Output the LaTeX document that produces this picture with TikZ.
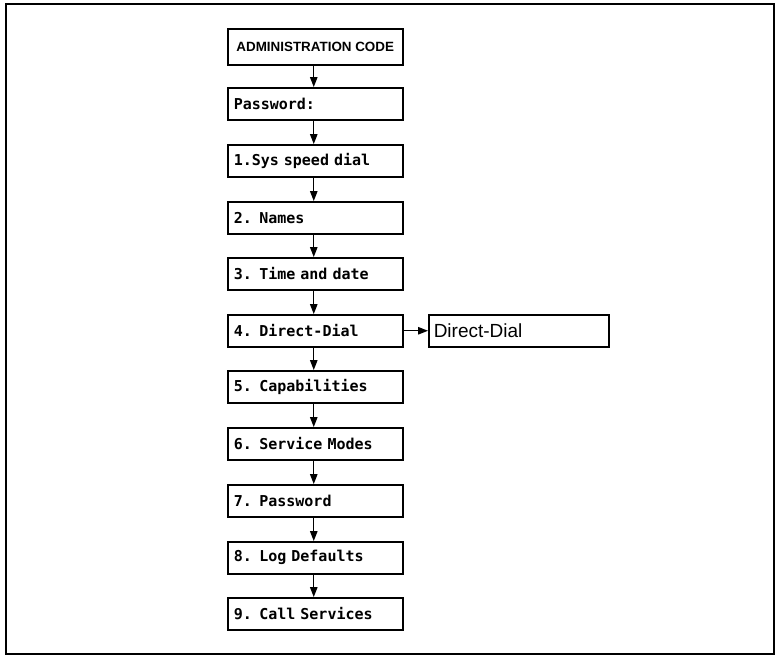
\documentclass[tikz,border=0pt]{standalone}
\usepackage{fontspec}
\setmainfont{Liberation Sans}
\newfontfamily\lcdfont{DejaVu Sans Mono}
\usetikzlibrary{arrows.meta}
\begin{document}
\begin{tikzpicture}[x=1pt,y=-1pt,
  menubox/.style={draw,line width=1.5pt,minimum width=175pt,minimum height=32pt,
    text width=163pt,align=left,inner sep=6pt,anchor=north west,
    font=\lcdfont\bfseries\fontsize{15}{16}\selectfont},
  flow/.style={line width=1.3pt,-{Triangle[length=10pt,width=7.5pt]}}]
\useasboundingbox (0,0) rectangle (776,662);
\draw[line width=1.5pt] (6,4) rectangle (774,654);
\node[draw,line width=1.5pt,minimum width=175pt,minimum height=36pt,anchor=north west,
  inner sep=2pt,font=\bfseries\fontsize{13.4}{15}\selectfont] (admin) at (227,28) {ADMINISTRATION CODE};
\node[menubox] (pw) at (227,87) {Password:};
\node[menubox] (m1) at (227,144) {1.Sys speed dial};
\node[menubox] (m2) at (227,201) {2. Names};
\node[menubox] (m3) at (227,257) {3. Time and date};
\node[menubox] (m4) at (227,314) {4. Direct-Dial};
\node[menubox] (m5) at (227,370) {5. Capabilities};
\node[menubox] (m6) at (227,427) {6. Service Modes};
\node[menubox] (m7) at (227,484) {7. Password};
\node[menubox] (m8) at (227,541) {8. Log Defaults};
\node[menubox] (m9) at (227,597) {9. Call Services};
\node[draw,line width=1.5pt,minimum width=180pt,minimum height=32pt,text width=170pt,
  align=left,inner sep=5pt,anchor=north west,font=\fontsize{19}{21}\selectfont] (dd) at (428,314) {Direct-Dial};
\foreach \a/\b in {admin/pw,pw/m1,m1/m2,m2/m3,m3/m4,m4/m5,m5/m6,m6/m7,m7/m8,m8/m9}
  \draw[flow] ([xshift=-1.5pt]\a.south) -- ([xshift=-1.5pt]\b.north);
\draw[flow] (m4.east) -- (dd.west);
\end{tikzpicture}
\end{document}
